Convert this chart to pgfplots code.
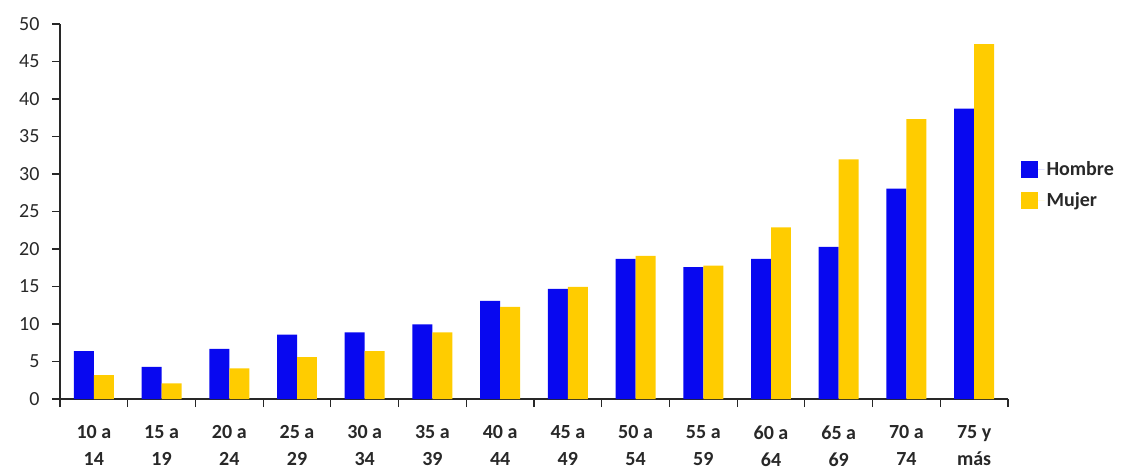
\documentclass[border=0pt]{standalone}
\usepackage{pgfplots}
\pgfplotsset{compat=1.18}
\usepackage{fontspec}
\setmainfont{Carlito}
\definecolor{hblue}{RGB}{8,8,240}
\definecolor{myellow}{RGB}{255,204,0}
\definecolor{axgray}{RGB}{40,40,40}
\begin{document}
\begin{tikzpicture}
\useasboundingbox (-60pt,-70pt) rectangle (1072pt,399pt);
\begin{axis}[
  at={(0pt,0pt)}, anchor=south west,
  scale only axis, width=948pt, height=375pt,
  ybar=0pt, bar width=0.295,
  xmin=-0.5, xmax=13.5, ymin=0, ymax=50,
  axis lines*=left,
  axis line style={axgray, line width=1.2pt},
  xtick={0,...,13},
  xticklabels={{10 a\\14},{15 a\\19},{20 a\\24},{25 a\\29},{30 a\\34},{35 a\\39},{40 a\\44},{45 a\\49},{50 a\\54},{55 a\\59},{60 a\\64},{65 a\\69},{70 a\\74},{75 y\\más}},
  major x tick style={draw=none},
  minor xtick={-0.5,0.5,...,13.5},
  minor x tick style={axgray, line width=1.2pt},
  minor tick length=8pt,
  tick align=outside,
  ytick={0,5,...,50},
  major y tick style={axgray, line width=1.2pt},
  major tick length=8pt,
  xticklabel style={font=\fontsize{20}{27}\selectfont\bfseries, align=center, text=axgray, yshift=-15pt},
  yticklabel style={font=\fontsize{20}{22}\selectfont, text=axgray, xshift=-9pt},
  /pgf/number format/assume math mode=true,
  legend style={at={(1.013,0.571)}, anchor=west, draw=none, fill=none,
    font=\fontsize{20}{24}\selectfont\bfseries, text=axgray,
    row sep=11pt, inner sep=0pt},
  legend image code/.code={\path (0pt,0pt) -- (24pt,0pt); \fill[#1] (0pt,-8.5pt) rectangle (17pt,8.5pt);},
  legend cell align=left,
]
\addplot[draw=none, fill=hblue] coordinates {
(0,6.4) (1,4.3) (2,6.7) (3,8.6) (4,8.9) (5,9.95) (6,13.1) (7,14.7) (8,18.7) (9,17.6) (10,18.7) (11,20.3) (12,28.05) (13,38.7)};
\addplot[draw=none, fill=myellow] coordinates {
(0,3.2) (1,2.1) (2,4.1) (3,5.6) (4,6.4) (5,8.9) (6,12.3) (7,14.95) (8,19.1) (9,17.8) (10,22.9) (11,31.95) (12,37.3) (13,47.3)};
\legend{Hombre, Mujer}
\end{axis}
\end{tikzpicture}
\end{document}
